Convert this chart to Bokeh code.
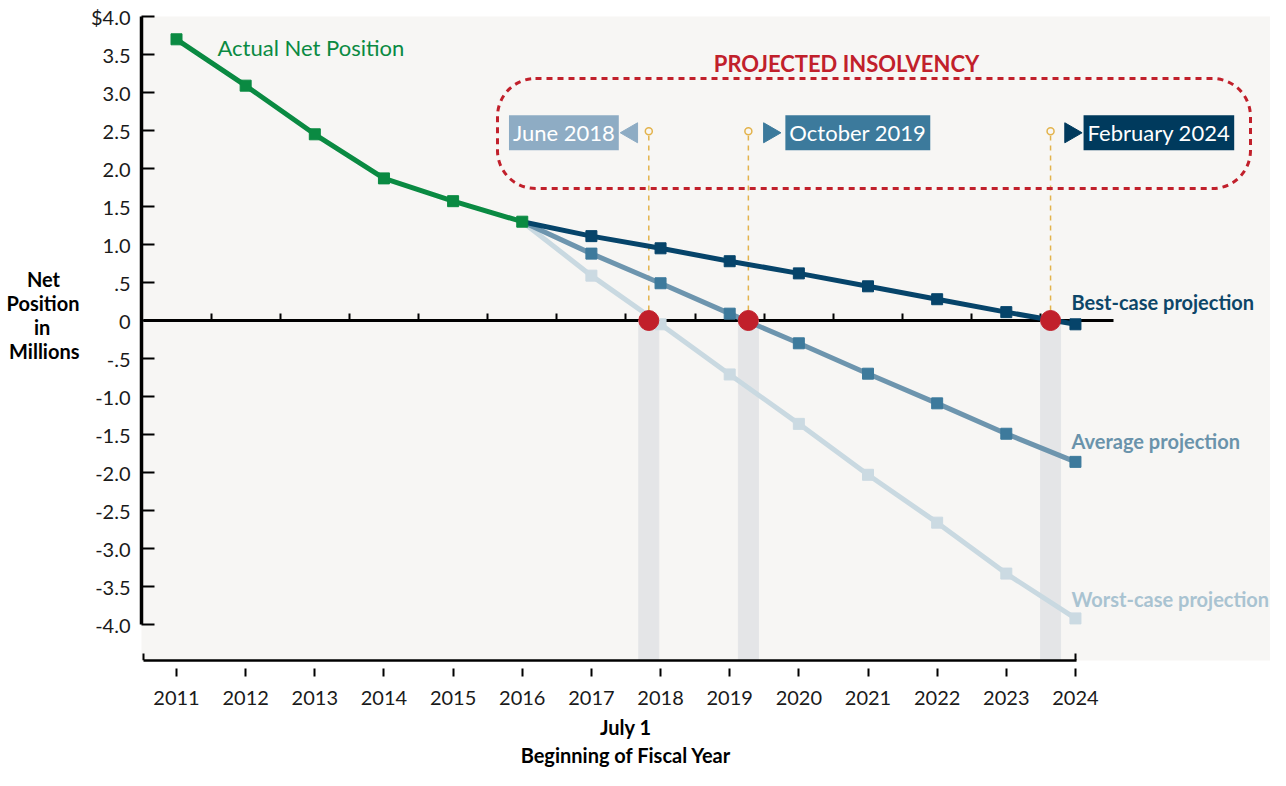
import math
from bokeh.plotting import figure
from bokeh.models import (LinearAxis, FixedTicker, Range1d, BoxAnnotation)
from bokeh.core.properties import value
from bokeh.embed import file_html
from bokeh.resources import INLINE

# ---------------- data ----------------
years_actual = [2011, 2012, 2013, 2014, 2015, 2016]
actual = [3.70, 3.09, 2.45, 1.87, 1.57, 1.30]

years_proj = [2016, 2017, 2018, 2019, 2020, 2021, 2022, 2023, 2024]
best = [1.30, 1.11, 0.95, 0.78, 0.62, 0.45, 0.28, 0.11, -0.05]
average = [1.30, 0.88, 0.49, 0.09, -0.30, -0.70, -1.09, -1.49, -1.86]
worst = [1.30, 0.59, -0.05, -0.71, -1.36, -2.03, -2.66, -3.33, -3.92]

insolvency_x = [2017.83, 2019.27, 2023.64]
insolvency_labels = ["June 2018", "October 2019", "February 2024"]

year_ticks = list(range(2011, 2025))
y_ticks = [-4.0, -3.5, -3.0, -2.5, -2.0, -1.5, -1.0, -0.5, 0.0, 0.5, 1.0, 1.5, 2.0, 2.5, 3.0, 3.5, 4.0]
y_tick_labels = ["-4.0", "-3.5", "-3.0", "-2.5", "-2.0", "-1.5", "-1.0", "-.5", "0", ".5",
                 "1.0", "1.5", "2.0", "2.5", "3.0", "3.5", "$4.0"]

NB = "\u00a0"
# titles (non-breaking spaces only nudge the centred text blocks into place)
y_title = "Net" + NB * 4 + "\nPosition\nin" + NB * 6 + "\nMillions\n" + NB + "\n" + NB
x_title = "July 1" + NB * 33 + "\nBeginning of Fiscal Year" + NB * 33

# ---------------- styles ----------------
FONT = "Lato"
BG = "#f7f6f4"
GREEN = "#0a8a42"
BEST = "#06446a"
AVG_LINE = "#6d95ae"
AVG_MARK = "#3d7a9c"
WORST_LINE = "#c9d9e1"
WORST_MARK = "#cbdae2"
RED = "#c1202b"
ORANGE = "#e3b34c"
BAND = "#e4e5e7"
box_colors = ["#8eacc4", "#3c7a9c", "#003a5d"]

PX_PER_YEAR = 69.15
PX_PER_UNIT = 76.0

W, H = 1270, 770
left_b, right_b, top_b, bottom_b = 141, 0, 16, 110
frame_w = W - left_b - right_b
frame_h = H - top_b - bottom_b

x0 = 2011 + (141 - 176) / PX_PER_YEAR
x1 = x0 + frame_w / PX_PER_YEAR
y1 = 4.0
y0 = y1 - frame_h / PX_PER_UNIT

p = figure(width=W, height=H, output_backend="svg", toolbar_location=None,
           x_range=Range1d(x0, x1), y_range=Range1d(y0, y1),
           x_axis_type=None, y_axis_type=None,
           min_border_left=left_b, min_border_right=right_b,
           min_border_top=top_b, min_border_bottom=bottom_b)
p.background_fill_color = BG
p.border_fill_color = "white"
p.outline_line_color = None
p.grid.visible = False


def bare_axis(ax):
    ax.axis_line_color = None
    ax.major_tick_line_color = None
    ax.minor_tick_line_color = None
    ax.major_tick_out = 0
    ax.major_tick_in = 0
    ax.major_label_standoff = 0
    ax.major_label_text_font_size = "0px"
    ax.axis_label_text_font = FONT
    ax.axis_label_text_font_style = "bold"
    ax.axis_label_text_font_size = "20px"
    ax.axis_label_text_color = "black"


def hidden_labels(ax):
    ax.major_label_standoff = 0
    ax.major_label_text_font_size = "0px"
    ax.major_label_text_alpha = 0
    ax.major_tick_out = 0
    ax.minor_tick_line_color = None


# left axis
yax = LinearAxis(ticker=FixedTicker(ticks=y_ticks),
                 major_label_overrides={t: l for t, l in zip(y_ticks, y_tick_labels)},
                 bounds=(-4.0, 4.0))
yax.axis_line_width = 3.5
yax.axis_line_color = "black"
yax.major_tick_in = 13
yax.major_tick_out = 0
yax.major_tick_line_width = 2
yax.minor_tick_line_color = None
yax.major_label_standoff = 11
yax.major_label_text_font = FONT
yax.major_label_text_font_size = "20px"
yax.major_label_text_color = "#1a1a1a"
p.add_layout(yax, "left")

# y title on a bare axis
ytax = LinearAxis(ticker=FixedTicker(ticks=[]), axis_label=y_title,
                  axis_label_orientation="horizontal")
bare_axis(ytax)
ytax.axis_label_text_line_height = 1.0
ytax.axis_label_standoff = 8
p.add_layout(ytax, "left")

# bottom axis
xax = LinearAxis(ticker=FixedTicker(ticks=year_ticks), bounds=(2010.52, 2024.01))
xax.axis_line_width = 2.5
xax.axis_line_color = "black"
xax.major_tick_in = -8
xax.major_tick_out = 16
xax.major_tick_line_width = 2
xax.minor_tick_line_color = None
xax.major_label_standoff = 14
xax.major_label_text_font = FONT
xax.major_label_text_font_size = "20px"
xax.major_label_text_color = "#1a1a1a"
p.add_layout(xax, "below")

# small upturned end ticks of the bottom axis
eax = LinearAxis(ticker=FixedTicker(ticks=[2010.53, 2024.0]), fixed_location=y0)
hidden_labels(eax)
eax.axis_line_color = None
eax.major_tick_in = 7
eax.major_tick_line_width = 2
eax.major_tick_line_color = "black"
p.add_layout(eax, "below")

# zero line axis
zax = LinearAxis(ticker=FixedTicker(ticks=[y + 0.5 for y in year_ticks[:-1]]),
                 bounds=(2010.52, 2024.55), fixed_location=0)
hidden_labels(zax)
zax.axis_line_width = 3
zax.axis_line_color = "black"
zax.major_tick_in = 7
zax.major_tick_line_width = 2
zax.level = "underlay"
p.add_layout(zax, "below")

# x title carried by a bare axis
tax = LinearAxis(ticker=FixedTicker(ticks=[]), axis_label=x_title)
bare_axis(tax)
tax.axis_label_standoff = 7
tax.axis_label_text_line_height = 1.2
p.add_layout(tax, "below")

# grey bands at insolvency dates
p.vbar(x=insolvency_x, top=0, bottom=y0 - 1, width=20 / PX_PER_YEAR, color=BAND)

# orange dashed leaders
p.segment(x0=insolvency_x, y0=[0] * 3, x1=insolvency_x, y1=[2.43] * 3,
          line_color=ORANGE, line_width=1.5, line_dash="5 5")
p.scatter(x=insolvency_x, y=[2.49] * 3, size=7, marker="circle",
          line_color=ORANGE, line_width=1.5, fill_color=BG)

# series
p.line(years_proj, worst, line_color=WORST_LINE, line_width=5)
p.scatter(years_proj[1:], worst[1:], marker="square", size=11, color=WORST_MARK)
p.line(years_proj, average, line_color=AVG_LINE, line_width=5)
p.scatter(years_proj[1:], average[1:], marker="square", size=11, color=AVG_MARK)
p.line(years_proj, best, line_color=BEST, line_width=5)
p.scatter(years_proj[1:], best[1:], marker="square", size=11, color=BEST)
p.line(years_actual, actual, line_color=GREEN, line_width=5)
p.scatter(years_actual, actual, marker="square", size=11, color=GREEN)

# insolvency dots
p.scatter(x=insolvency_x, y=[0] * 3, marker="circle", size=20, color=RED)

# series labels
lab_x = 2011 + (1071 - 176) / PX_PER_YEAR
for txt, yy, col in [("Best-case projection", 0.24, "#0d4668"),
                     ("Average projection", -1.58, "#6a93ab"),
                     ("Worst-case projection", -3.66, "#a9c3d1")]:
    p.text(x=[lab_x], y=[yy], text=[txt], text_font=value(FONT), text_font_style="bold",
           text_font_size="20px", text_color=col, text_baseline="middle", text_align="left")

p.text(x=[2011 + (217 - 176) / PX_PER_YEAR], y=[3.59], text=["Actual Net Position"],
       text_font=value(FONT), text_font_size="22px", text_color=GREEN,
       text_baseline="middle", text_align="left")

# projected insolvency box
p.add_layout(BoxAnnotation(left=2011 + (497 - 176) / PX_PER_YEAR,
                           right=2011 + (1250 - 176) / PX_PER_YEAR,
                           top=(320 - 78) / PX_PER_UNIT, bottom=(320 - 188) / PX_PER_UNIT,
                           fill_color=None, fill_alpha=0, line_color=RED, line_alpha=1.0,
                           line_width=3, line_dash="6 5", border_radius=38))
p.text(x=[2011 + (846 - 176) / PX_PER_YEAR], y=[3.38], text=["PROJECTED INSOLVENCY"],
       text_font=value(FONT), text_font_style="bold", text_font_size="22px",
       text_color=RED, text_baseline="middle", text_align="center")

# date labels with triangles
tri_off = [-17, 21, 20]
box_off = [-30, 37, 33]
tri_angle = [math.pi / 2, -math.pi / 2, -math.pi / 2]
for xi, lbl, col, to, bo, ang in zip(insolvency_x, insolvency_labels, box_colors,
                                     tri_off, box_off, tri_angle):
    p.scatter(x=[xi + to / PX_PER_YEAR], y=[2.47], marker="triangle", size=20,
              angle=ang, color=col)
    p.text(x=[xi + bo / PX_PER_YEAR], y=[2.47], text=[lbl], text_font=value(FONT),
           text_font_size="22px", text_color="white", text_baseline="middle",
           text_align="right" if bo < 0 else "left",
           background_fill_color=col, padding=4)

open("out.html", "w").write(file_html(p, INLINE))
